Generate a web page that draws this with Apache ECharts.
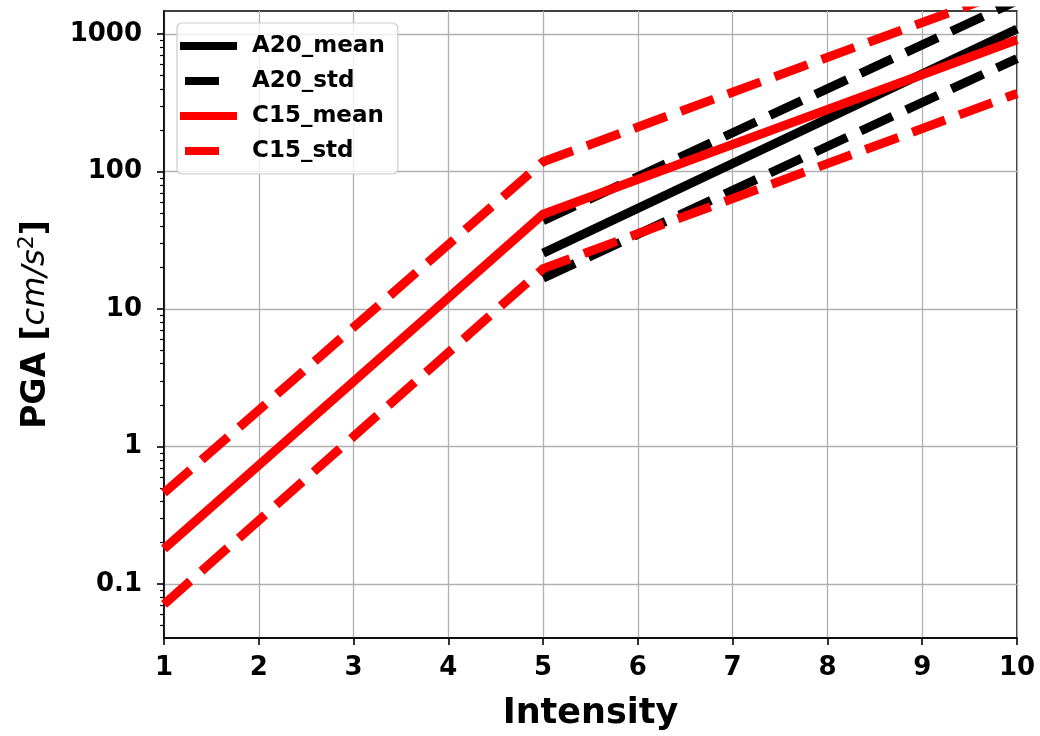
<!DOCTYPE html>
<html>
<head>
<meta charset="utf-8">
<script src="https://cdn.jsdelivr.net/npm/echarts@6/dist/echarts.min.js"></script>
<style>
html,body{margin:0;padding:0;background:#fff;}
#chart{width:1040px;height:736px;}
</style>
</head>
<body>
<div id="chart"></div>
<script>
// ---- data ----
const c15Intensity = [1, 5, 10];
const c15Mean  = [0.18, 49, 910];
const c15Upper = [0.46, 118, 2180];
const c15Lower = [0.071, 19.7, 370];

const a20Intensity = [5, 10];
const a20Mean  = [25.5, 1090];
const a20Upper = [44, 1750];
const a20Lower = [16.8, 665];

const xTicks = [1, 2, 3, 4, 5, 6, 7, 8, 9, 10];
const yTicks = [0.1, 1, 10, 100, 1000];
const yMinorTicks = [0.05, 0.06, 0.07, 0.08, 0.09,
  0.2, 0.3, 0.4, 0.5, 0.6, 0.7, 0.8, 0.9,
  2, 3, 4, 5, 6, 7, 8, 9,
  20, 30, 40, 50, 60, 70, 80, 90,
  200, 300, 400, 500, 600, 700, 800, 900];
const legendNames = ['A20_mean', 'A20_std', 'C15_mean', 'C15_std'];

const Y_MIN = 0.0404, Y_MAX = 1475;
const FONT = 'DejaVu Sans';

function pairs(xs, ys) { return xs.map((x, i) => [x, ys[i]]); }

const LW = 9;
const DASH = [35, 15];

function lineSeries(name, xs, ys, color, dashed) {
  return {
    name: name,
    type: 'line',
    data: pairs(xs, ys),
    showSymbol: false,
    symbol: 'none',
    clip: true,
    silent: true,
    itemStyle: { color: color },
    lineStyle: { color: color, width: LW, type: dashed ? DASH : 'solid', cap: 'butt', join: 'miter' },
    z: 2
  };
}

const solidIcon = 'path://M0,0L57,0L57,8L0,8Z M67,8L67,8';
const dashIcon  = 'path://M0,0L0,0 M5,0L39,0L39,8L5,8Z M67,8L67,8';

const chart = echarts.init(document.getElementById('chart'), null, { renderer: 'canvas' });
const option = {
  animation: false,
  backgroundColor: '#ffffff',
  textStyle: { fontFamily: FONT },
  grid: {
    left: 164, right: 23, top: 11, bottom: 96,
    show: true, borderColor: '#000', borderWidth: 1.6, backgroundColor: 'transparent'
  },
  legend: {
    orient: 'vertical',
    left: 177, top: 23,
    padding: [11, 13, 11, 3],
    itemGap: 11,
    itemWidth: 67,
    itemHeight: 8,
    backgroundColor: 'rgba(255,255,255,0.8)',
    borderColor: '#cccccc',
    borderWidth: 1.2,
    borderRadius: 5,
    selectedMode: false,
    textStyle: { fontFamily: FONT, fontWeight: 'bold', fontSize: 23, color: '#000', lineHeight: 24 },
    data: [
      { name: legendNames[0], icon: solidIcon, itemStyle: { color: '#000' } },
      { name: legendNames[1], icon: dashIcon,  itemStyle: { color: '#000' } },
      { name: legendNames[2], icon: solidIcon, itemStyle: { color: '#ff0000' } },
      { name: legendNames[3], icon: dashIcon,  itemStyle: { color: '#ff0000' } }
    ]
  },
  xAxis: {
    type: 'value',
    min: xTicks[0], max: xTicks[xTicks.length - 1], interval: 1,
    name: 'Intensity',
    nameLocation: 'middle',
    nameGap: 58,
    nameTextStyle: { fontFamily: FONT, fontWeight: 'bold', fontSize: 35, color: '#000' },
    axisLine: { show: true, onZero: false, lineStyle: { color: '#000', width: 1.6 } },
    axisTick: { show: true, inside: false, length: 7, lineStyle: { color: '#000', width: 1.6 } },
    axisLabel: { show: true, margin: 17, fontFamily: FONT, fontWeight: 'bold', fontSize: 26, color: '#000' },
    splitLine: { show: true, lineStyle: { color: '#b0b0b0', width: 1.3 } }
  },
  yAxis: [{
    type: 'log',
    logBase: 10,
    min: Y_MIN, max: Y_MAX,
    name: '{b|PGA [}{i|cm/s}{s|2}{b|]}',
    nameLocation: 'middle',
    nameRotate: 90,
    nameGap: 108,
    nameTextStyle: {
      rich: {
        b: { fontFamily: FONT, fontWeight: 'bold', fontSize: 33, color: '#000', lineHeight: 40 },
        i: { fontFamily: FONT, fontStyle: 'italic', fontWeight: 'normal', fontSize: 32, color: '#000', lineHeight: 40 },
        s: { fontFamily: FONT, fontWeight: 'normal', fontSize: 22, color: '#000', verticalAlign: 'top', lineHeight: 22 }
      }
    },
    axisLine: { show: true, onZero: false, lineStyle: { color: '#000', width: 1.6 } },
    axisTick: { show: true, inside: false, length: 7, lineStyle: { color: '#000', width: 1.6 }, customValues: yTicks },
    axisLabel: {
      show: true, margin: 22, fontFamily: FONT, fontWeight: 'bold', fontSize: 26, color: '#000',
      customValues: yTicks,
      formatter: function (v) { return String(+(+v).toPrecision(6)); }
    },
    splitLine: { show: true, lineStyle: { color: '#b0b0b0', width: 1.3 } }
  }, {
    type: 'log',
    logBase: 10,
    min: Y_MIN, max: Y_MAX,
    position: 'left',
    axisLine: { show: false },
    axisLabel: { show: false },
    splitLine: { show: false },
    axisTick: { show: true, inside: false, length: 4, lineStyle: { color: '#000', width: 1.2 }, customValues: yMinorTicks }
  }],
  series: [
    lineSeries('A20_mean', a20Intensity, a20Mean, '#000000', false),
    lineSeries('A20_std',  a20Intensity, a20Upper, '#000000', true),
    lineSeries('A20_std',  a20Intensity, a20Lower, '#000000', true),
    lineSeries('C15_mean', c15Intensity, c15Mean, '#ff0000', false),
    lineSeries('C15_std',  c15Intensity, c15Upper, '#ff0000', true),
    lineSeries('C15_std',  c15Intensity, c15Lower, '#ff0000', true)
  ]
};
chart.setOption(option);
</script>
</body>
</html>
